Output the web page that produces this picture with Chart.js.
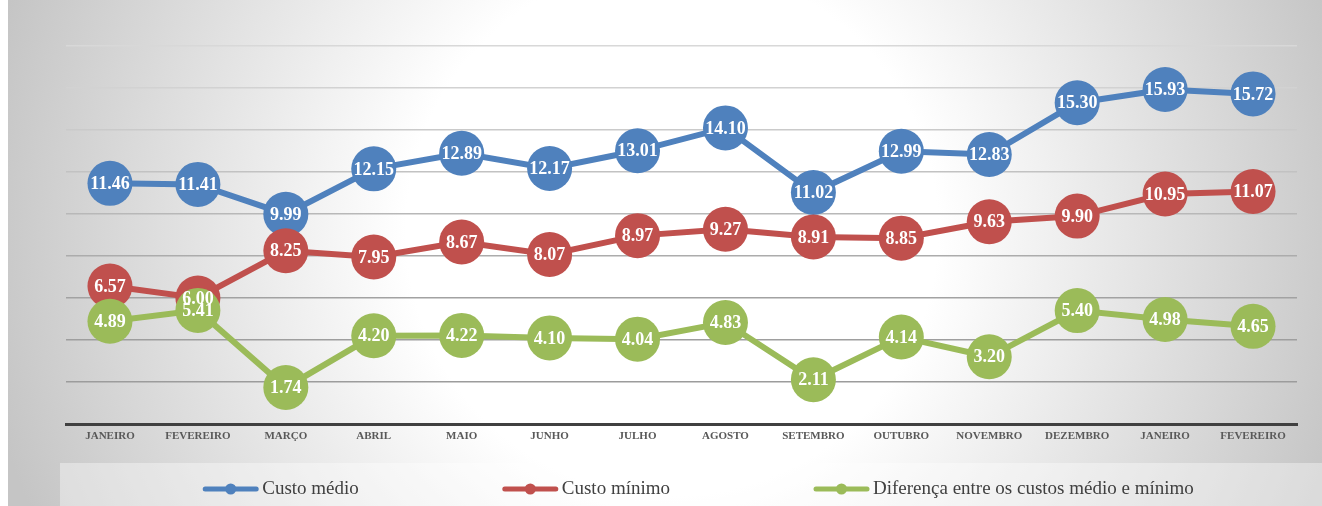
<!DOCTYPE html>
<html>
<head>
<meta charset="utf-8">
<script src="https://cdn.jsdelivr.net/npm/chart.js@4.4.1/dist/chart.umd.min.js"></script>
<style>
  html, body { margin: 0; padding: 0; background: #fff; }
  #myChart { display: block; }
</style>
</head>
<body>
<canvas id="myChart" width="1322" height="506"></canvas>
<script>
const months = ['JANEIRO', 'FEVEREIRO', 'MARÇO', 'ABRIL', 'MAIO', 'JUNHO', 'JULHO', 'AGOSTO', 'SETEMBRO', 'OUTUBRO', 'NOVEMBRO', 'DEZEMBRO', 'JANEIRO', 'FEVEREIRO'];
const custoMedio = [11.46, 11.41, 9.99, 12.15, 12.89, 12.17, 13.01, 14.10, 11.02, 12.99, 12.83, 15.30, 15.93, 15.72];
const custoMinimo = [6.57, 6.00, 8.25, 7.95, 8.67, 8.07, 8.97, 9.27, 8.91, 8.85, 9.63, 9.90, 10.95, 11.07];
const diferenca = [4.89, 5.41, 1.74, 4.20, 4.22, 4.10, 4.04, 4.83, 2.11, 4.14, 3.20, 5.40, 4.98, 4.65];
const seriesNames = ['Custo médio', 'Custo mínimo', 'Diferença entre os custos médio e mínimo'];
const yTicks = [0, 2, 4, 6, 8, 10, 12, 14, 16, 18];

const colors = ['#4F81BD', '#C0504D', '#9BBB59'];
const serif = "'Liberation Serif', 'Times New Roman', serif";

// grid lines fade out towards the top
const gridColors = {2: '#9c9c9c', 4: '#9e9e9e', 6: '#a2a2a2', 8: '#acacac', 10: '#b8b8b8', 12: '#c2c2c2', 14: '#cacaca', 16: '#d2d2d2', 18: '#d8d8d8'};

function makeLine(label, values, color, order) {
    return {
        label: label,
        data: values,
        borderColor: color,
        backgroundColor: color,
        borderWidth: 6,
        pointRadius: 22.5,
        pointBackgroundColor: color,
        pointBorderWidth: 0,
        tension: 0,
        fill: false,
        order: order
    };
}

// setup
const data = {
    labels: months,
    datasets: [
        makeLine(seriesNames[0], custoMedio, colors[0], 3),
        makeLine(seriesNames[1], custoMinimo, colors[1], 2),
        makeLine(seriesNames[2], diferenca, colors[2], 1)
    ]
};

const background = {
    id: 'background',
    beforeDraw(chart) {
        const {ctx, width, height} = chart;
        ctx.save();
        ctx.fillStyle = '#fff';
        ctx.fillRect(0, 0, width, height);
        const g = ctx.createRadialGradient(672, 230, 0, 672, 230, 700);
        g.addColorStop(0, '#ffffff');
        g.addColorStop(0.38, '#ffffff');
        g.addColorStop(1, '#c5c5c5');
        ctx.fillStyle = g;
        ctx.fillRect(8, 0, width - 8, height);
        // legend band
        ctx.fillStyle = 'rgba(255,255,255,0.38)';
        ctx.fillRect(60, 463, width - 60, height - 463);
        ctx.restore();
    }
};

const valueLabels = {
    id: 'valueLabels',
    afterDatasetsDraw(chart) {
        const {ctx} = chart;
        ctx.save();
        ctx.font = 'bold 18px ' + serif;
        ctx.fillStyle = '#fff';
        ctx.textAlign = 'center';
        ctx.textBaseline = 'middle';
        chart.data.datasets.forEach((ds, di) => {
            chart.getDatasetMeta(di).data.forEach((pt, i) => {
                ctx.fillText(ds.data[i].toFixed(2), pt.x, pt.y + 1);
            });
        });
        ctx.restore();
    }
};

const lineLegend = {
    id: 'lineLegend',
    afterDraw(chart) {
        const {ctx} = chart;
        const symW = 57, textGap = 3, itemGap = 143, cx = 698, cy = 489;
        ctx.save();
        ctx.font = '19px ' + serif;
        ctx.textBaseline = 'middle';
        ctx.textAlign = 'left';
        const widths = chart.data.datasets.map(ds => ctx.measureText(ds.label).width);
        let total = itemGap * (widths.length - 1);
        widths.forEach(w => total += symW + textGap + w);
        let x = cx - total / 2;
        chart.data.datasets.forEach((ds, i) => {
            ctx.strokeStyle = ds.borderColor;
            ctx.fillStyle = ds.borderColor;
            ctx.lineWidth = 5;
            ctx.lineCap = 'round';
            ctx.beginPath();
            ctx.moveTo(x + 3, cy);
            ctx.lineTo(x + symW - 3, cy);
            ctx.stroke();
            ctx.beginPath();
            ctx.arc(x + symW / 2, cy, 5.5, 0, Math.PI * 2);
            ctx.fill();
            ctx.fillStyle = '#404040';
            ctx.fillText(ds.label, x + symW + textGap, cy);
            x += symW + textGap + widths[i] + itemGap;
        });
        ctx.restore();
    }
};

// config
const config = {
    type: 'line',
    data: data,
    options: {
        responsive: false,
        animation: false,
        events: [],
        layout: {
            padding: {left: 66, right: 25, top: 46, bottom: 0}
        },
        plugins: {
            legend: {display: false},
            tooltip: {enabled: false}
        },
        scales: {
            x: {
                offset: true,
                grid: {display: false, drawTicks: false},
                border: {display: true, color: '#404040', width: 3},
                ticks: {
                    autoSkip: false,
                    maxRotation: 0,
                    padding: 6,
                    color: '#595959',
                    font: {family: serif, size: 11, weight: 'bold'}
                },
                afterFit(scale) { scale.height = 82; }
            },
            y: {
                min: yTicks[0],
                max: yTicks[yTicks.length - 1],
                afterBuildTicks(scale) { scale.ticks = yTicks.map(v => ({value: v})); },
                ticks: {display: false},
                border: {display: false},
                grid: {
                    drawTicks: false,
                    lineWidth: 1.5,
                    color: c => gridColors[c.tick.value] || 'rgba(0,0,0,0)'
                },
                afterFit(scale) { scale.width = 0; }
            }
        }
    },
    plugins: [background, valueLabels, lineLegend]
};

// render init block
const myChart = new Chart(document.getElementById('myChart'), config);
</script>
</body>
</html>
